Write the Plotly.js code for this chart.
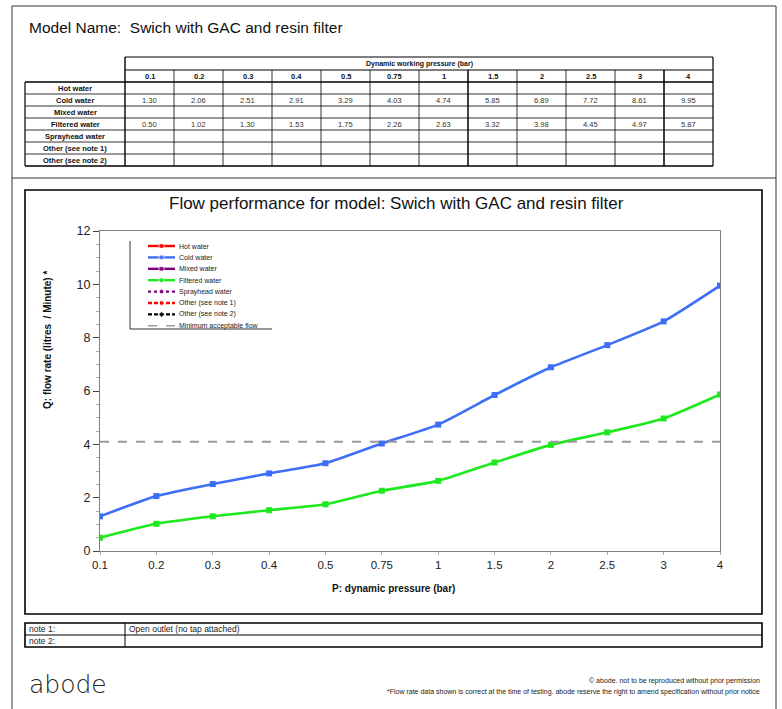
<!DOCTYPE html>
<html><head><meta charset="utf-8">
<script src="https://cdn.plot.ly/plotly-3.0.1.min.js"></script>
<style>html,body{margin:0;padding:0;background:#fff;}#chart{width:782px;height:709px;}</style>
</head><body><div id="chart"></div>
<script>
// ---------- data ----------
const pressures = ['0.1','0.2','0.3','0.4','0.5','0.75','1','1.5','2','2.5','3','4'];
const rowLabels = ['Hot water','Cold water','Mixed water','Filtered water','Sprayhead water','Other (see note 1)','Other (see note 2)'];
const hotWater = [];
const coldWater = [1.30, 2.06, 2.51, 2.91, 3.29, 4.03, 4.74, 5.85, 6.89, 7.72, 8.61, 9.95];
const mixedWater = [];
const filteredWater = [0.50, 1.02, 1.30, 1.53, 1.75, 2.26, 2.63, 3.32, 3.98, 4.45, 4.97, 5.87];
const sprayheadWater = [];
const otherNote1 = [];
const otherNote2 = [];
const minAcceptable = [4.1, 4.1, 4.1, 4.1, 4.1, 4.1, 4.1, 4.1, 4.1, 4.1, 4.1, 4.1];
const legendLabels = ['Hot water','Cold water','Mixed water','Filtered water','Sprayhead water','Other (see note 1)','Other (see note 2)','Minimum acceptable flow'];
const noteLabels = ['note 1:','note 2:'];
const noteTexts = ['Open outlet (no tap attached)',''];
const modelName = 'Swich with GAC and resin filter';

// ---------- styles ----------
const FONT = 'Arial, "Liberation Sans", sans-serif';
const W = 782, H = 709;
const seriesStyles = [
  {color:'#ff0000', dash:'solid', symbol:'square'},
  {color:'#3f6ef6', dash:'solid', symbol:'square'},
  {color:'#800080', dash:'solid', symbol:'square'},
  {color:'#1ee81e', dash:'solid', symbol:'square'},
  {color:'#800080', dash:'dashdot', symbol:'circle'},
  {color:'#ff0000', dash:'dash', symbol:'circle'},
  {color:'#000000', dash:'dash', symbol:'diamond'},
  {color:'#9a9a9a', dash:'dash', symbol:null}
];
const seriesData = [hotWater, coldWater, mixedWater, filteredWater, sprayheadWater, otherNote1, otherNote2];

const traces = [];
seriesData.forEach((ys, i) => {
  const s = seriesStyles[i];
  traces.push({
    type:'scatter', mode:'lines+markers', x: pressures.slice(0, ys.length), y: ys,
    xaxis:'x', yaxis:'y', showlegend:false, hoverinfo:'skip',
    line:{color:s.color, width:2.6, dash:s.dash, shape:'spline', smoothing:0.5},
    marker:{color:s.color, size:6, symbol:s.symbol}
  });
});
traces.push({
  type:'scatter', mode:'lines', x: pressures, y: minAcceptable, xaxis:'x', yaxis:'y',
  showlegend:false, hoverinfo:'skip',
  line:{color:'#9a9a9a', width:2, dash:'dash'}
});

// legend samples on pixel helper axes
const LX0 = 148, LX1 = 175, LY0 = 246, LDY = 11.4;
const annotations = [];
legendLabels.forEach((lab, i) => {
  const s = seriesStyles[i];
  const y = LY0 + i * LDY;
  traces.push({
    type:'scatter', mode: s.symbol ? 'lines+markers' : 'lines',
    x:[LX0, (LX0+LX1)/2, LX1], y:[y, y, y], xaxis:'x2', yaxis:'y2',
    showlegend:false, hoverinfo:'skip',
    line:{color:s.color, width: i===7 ? 1.5 : 2.4, dash: s.dash === 'dashdot' ? 'dot' : (s.dash==='dash' && i<7 ? '4px,2px' : s.dash)},
    marker:{color:s.color, size:[0,5,0], symbol:s.symbol || 'circle'}
  });
  annotations.push({xref:'x2', yref:'y2', x:LX1+2, y:y, xanchor:'left', yanchor:'middle', showarrow:false,
    text: lab, font:{family:FONT, size:7, color:'#222'}});
});

// ---------- shapes helpers ----------
const shapes = [];
function ln(x0,y0,x1,y1,w,c){ shapes.push({type:'line', xref:'x2', yref:'y2', x0, y0, x1, y1, line:{color:c||'#000', width:w||1}}); }
function rc(x0,y0,x1,y1,w,c){ shapes.push({type:'rect', xref:'x2', yref:'y2', x0, y0, x1, y1, line:{color:c||'#000', width:w||1}}); }
function txt(x,y,t,size,opts){ annotations.push(Object.assign({xref:'x2', yref:'y2', x, y, text:t, showarrow:false,
  xanchor:'center', yanchor:'middle', font:{family:FONT, size, color:'#111'}}, opts||{})); }

// page frame
rc(12, 6, 776, 760, 1, '#333');
ln(12, 178, 776, 178, 1, '#333');
// chart box
rc(25, 190, 762, 614, 1.6, '#000');
// notes table
rc(25, 623, 762, 647, 1.6, '#000');
ln(25, 635, 762, 635, 1, '#000');
ln(125, 623, 125, 647, 1, '#000');
noteLabels.forEach((n, i) => {
  txt(27, 629 + i*12, n, 8.5, {xanchor:'left', font:{family:FONT, size:8.5, color:'#222'}});
  if (noteTexts[i]) txt(127, 629 + i*12, noteTexts[i], 8.5, {xanchor:'left', font:{family:FONT, size:8.5, color:'#222'}});
});

// header title
txt(27, 27, 'Model Name:\u00A0\u00A0' + modelName, 15.5, {xanchor:'left', font:{family:FONT, size:15.5, color:'#111'}});

// data table
const TX0 = 125, CW = 49, TY0 = 57, HR = 13, RH = 12;
const TX1 = TX0 + CW * pressures.length;
const rowTop = TY0 + 2*HR - 1; // 82 approx
ln(TX0, TY0, TX1, TY0, 1.2);
ln(TX0, TY0+HR, TX1, TY0+HR, 1);
for (let r = 0; r <= rowLabels.length; r++) {
  const y = rowTop + r*RH;
  ln(25, y, TX1, y, (r===0 || r===rowLabels.length) ? 1.4 : 0.8);
}
ln(25, rowTop, 25, rowTop + rowLabels.length*RH, 1.2);
ln(TX0, TY0, TX0, rowTop + rowLabels.length*RH, 1.4);
ln(TX1, TY0, TX1, rowTop + rowLabels.length*RH, 1.2);
for (let c = 1; c < pressures.length; c++) {
  const x = TX0 + c*CW;
  ln(x, TY0+HR, x, rowTop + rowLabels.length*RH, (c===7 || c===11) ? 1.5 : 0.8);
}
txt((TX0+TX1)/2, TY0 + HR/2, '<b>Dynamic working pressure (bar)</b>', 7);
pressures.forEach((p, c) => txt(TX0 + c*CW + CW/2, TY0 + HR + (rowTop-TY0-HR)/2, '<b>'+p+'</b>', 7.5));
rowLabels.forEach((lab, r) => {
  const yc = rowTop + r*RH + RH/2;
  txt(75, yc, '<b>'+lab+'</b>', 7.5);
  const vals = seriesData[r];
  vals.forEach((v, c) => txt(TX0 + c*CW + CW/2, yc, v.toFixed(2), 7.5, {font:{family:FONT, size:7.5, color:'#333'}}));
});

// legend frame (left + bottom)
ln(130, 241, 130, 329, 1, '#333');
ln(130, 329, 272, 329, 1, '#333');

// chart titles
txt(396, 203, 'Flow performance for model: ' + modelName, 17);
txt(393, 588, '<b>P: dynamic pressure (bar)</b>', 10);
txt(47, 340, '<b>Q: flow rate (litres\u00A0\u00A0/ Minute) *</b>', 10, {textangle:-90});

// footer
txt(27, 684, 'abode', 25, {xanchor:'left', font:{family:'"DejaVu Sans", sans-serif', size:25, color:'#222', weight:300}});
txt(762, 681, '\u00A9 abode. not to be reproduced without prior permission', 7, {xanchor:'right', font:{family:FONT, size:7, color:'#222'}});
txt(762, 692, '*Flow rate data shown is correct at the time of testing. abode reserve the right to amend specification without prior notice', 7, {xanchor:'right', font:{family:FONT, size:7, color:'#222'}});

const layout = {
  width: W, height: H,
  margin:{l:0, r:0, t:0, b:0, pad:0},
  paper_bgcolor:'#fff', plot_bgcolor:'rgba(0,0,0,0)',
  showlegend:false,
  font:{family:FONT, color:'#111'},
  xaxis:{domain:[100/W, 720/W], anchor:'y', type:'category', categoryorder:'array', categoryarray:pressures,
    range:[0, pressures.length-1], showline:true, mirror:true, linecolor:'#808080', linewidth:1,
    ticks:'outside', ticklen:3, tickcolor:'#aaa', showgrid:false, zeroline:false,
    tickfont:{family:FONT, size:11.5, color:'#222'}, fixedrange:true},
  yaxis:{domain:[(H-551)/H, (H-231)/H], anchor:'x', range:[0,12], tick0:0, dtick:2,
    showline:true, mirror:true, linecolor:'#808080', linewidth:1,
    ticks:'outside', ticklen:6, tickcolor:'#444', showgrid:false, zeroline:false,
    minor:{dtick:0.5, ticks:'outside', ticklen:3, tickcolor:'#aaa'},
    tickfont:{family:FONT, size:12.5, color:'#222'}, fixedrange:true},
  xaxis2:{domain:[0,1], anchor:'y2', range:[0, W], visible:false, fixedrange:true},
  yaxis2:{domain:[0,1], anchor:'x2', range:[H, 0], visible:false, fixedrange:true},
  shapes, annotations
};
Plotly.newPlot('chart', traces, layout, {staticPlot:true, displayModeBar:false});
</script></body></html>
